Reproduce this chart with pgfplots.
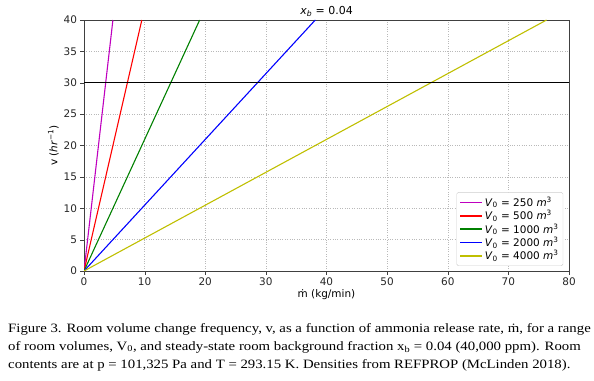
\documentclass[border=0pt]{standalone}
\usepackage{pgfplots}
\pgfplotsset{compat=1.18}
\usepackage{fontspec}
\setmainfont{DejaVu Sans}
\newfontfamily\capfont[FakeStretch=1.16]{Liberation Serif}
\definecolor{mplmag}{rgb}{0.75,0,0.75}
\definecolor{mplgreen}{rgb}{0,0.5,0}
\definecolor{mplyel}{rgb}{0.75,0.75,0}
\begin{document}
\begin{tikzpicture}
\begin{axis}[
  scale only axis, width=485bp, height=251bp,
  xmin=0, xmax=80, ymin=0, ymax=40,
  xtick={0,10,...,80}, ytick={0,5,...,40},
  /pgf/number format/assume math mode=true,
  tick label style={font=\fontsize{10.5}{12}\selectfont, text=black!85},
  label style={font=\fontsize{10.5}{12}\selectfont},
  grid=major, grid style={dotted, gray!55, line width=0.5pt},
  axis line style={black!75, line width=0.7pt},
  tick style={black!75}, tick align=outside, major tick length=3.5bp,
  xtick pos=bottom, ytick pos=left,
  title={\textit{x}\textsubscript{\textit{b}} = 0.04},
  title style={font=\fontsize{11}{13}\selectfont, yshift=-6bp},
  xlabel={ṁ (kg/min)}, ylabel={v (\textit{hr}\textsuperscript{−1})},
  xlabel style={yshift=3bp}, ylabel style={yshift=-2bp},
  legend style={font=\fontsize{10.5}{12}\selectfont, draw=black!20, rounded corners=1.5pt, at={(0.988,0.02)}, anchor=south east, inner sep=2.5pt, row sep=-1.5pt},
  legend image code/.code={\draw[#1, line width=1.6pt] (0bp,0bp) -- (22bp,0bp);},
  legend cell align=left,
]
\addplot[mplmag, line width=1.1pt] coordinates {(0,0) (4.77,40)};
\addlegendentry{\textit{V}\textsubscript{0} = 250 \textit{m}\textsuperscript{3}}
\addplot[red, line width=1.1pt] coordinates {(0,0) (9.54,40)};
\addlegendentry{\textit{V}\textsubscript{0} = 500 \textit{m}\textsuperscript{3}}
\addplot[mplgreen, line width=1.1pt] coordinates {(0,0) (19.08,40)};
\addlegendentry{\textit{V}\textsubscript{0} = 1000 \textit{m}\textsuperscript{3}}
\addplot[blue, line width=1.1pt] coordinates {(0,0) (38.15,40)};
\addlegendentry{\textit{V}\textsubscript{0} = 2000 \textit{m}\textsuperscript{3}}
\addplot[mplyel, line width=1.1pt] coordinates {(0,0) (76.3,40)};
\addlegendentry{\textit{V}\textsubscript{0} = 4000 \textit{m}\textsuperscript{3}}
\addplot[black, line width=1.5pt, forget plot] coordinates {(0,30) (80,30)};
\end{axis}
\node[anchor=north west, inner sep=0pt, align=left, font=\capfont\fontsize{12.8}{18}\selectfont] at ([xshift=-76bp, yshift=-52bp]current axis.south west)
{Figure 3. Room volume change frequency, v, as a function of ammonia release rate, ṁ, for a range\\
of room volumes, V\textsubscript{0}, and steady-state room background fraction x\textsubscript{b} = 0.04 (40,000 ppm). Room\\
contents are at p = 101,325 Pa and T = 293.15 K. Densities from REFPROP (McLinden 2018).};
\pgfresetboundingbox
\useasboundingbox ([xshift=-84bp, yshift=-110bp]current axis.south west) rectangle ++(594bp,381bp);
\end{tikzpicture}
\end{document}
